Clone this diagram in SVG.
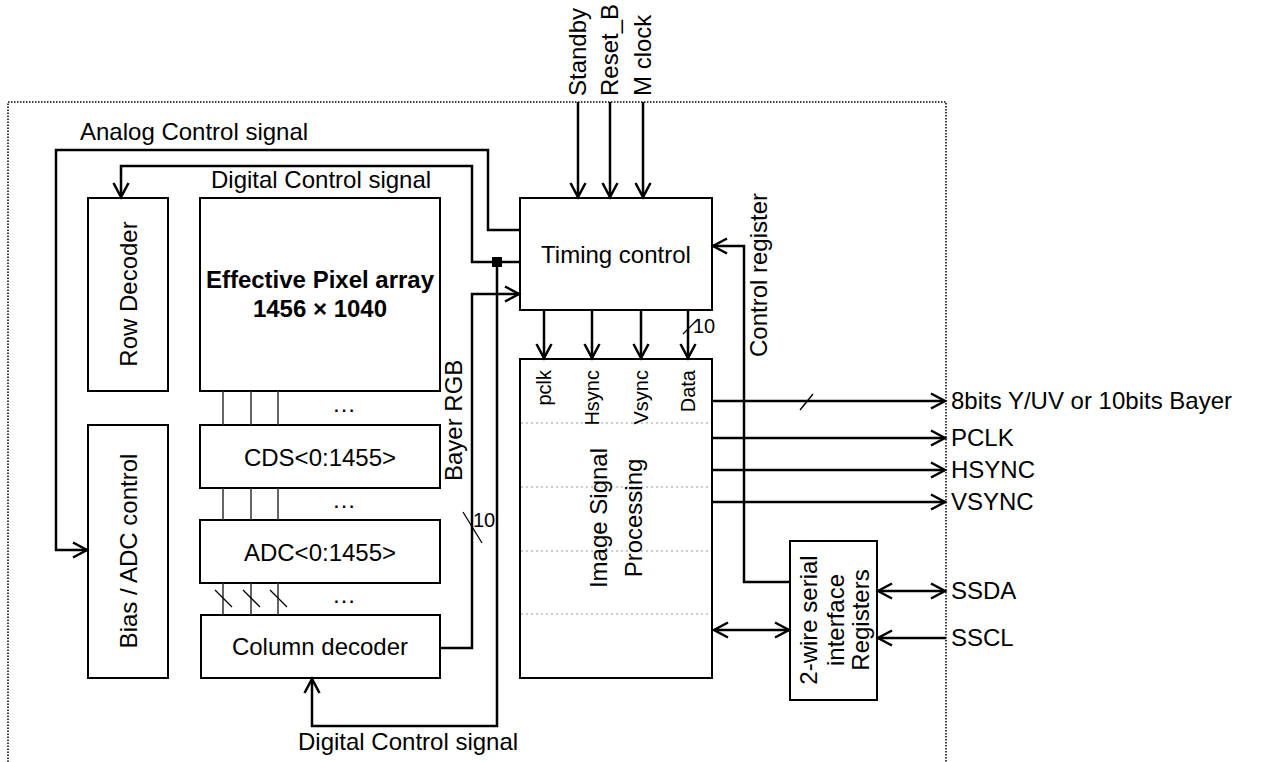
<svg xmlns="http://www.w3.org/2000/svg" width="1270" height="762" viewBox="0 0 1270 762">
<style>
text{font-family:"Liberation Sans",Arial,sans-serif;font-size:24px;fill:#000}
.b{font-weight:bold}
.s{font-size:20px}
.box{fill:#fff;stroke:#000;stroke-width:2}
.w{fill:none;stroke:#000;stroke-width:2.5}
.thin{fill:none;stroke:#333;stroke-width:1.5}
.sl{fill:none;stroke:#000;stroke-width:1.3}
.dot{fill:none;stroke:#999;stroke-width:1.2;stroke-dasharray:2 3}
.frame{fill:none;stroke:#000;stroke-width:1.5;stroke-dasharray:1.5 1.5}
.m{text-anchor:middle}
.e{text-anchor:end}
</style>
<defs>
<marker id="a" viewBox="-17 -10 20 20" refX="0" refY="0" markerWidth="20" markerHeight="20" markerUnits="userSpaceOnUse" orient="auto-start-reverse">
<path d="M-14,-7.5 L0,0 L-14,7.5" fill="none" stroke="#000" stroke-width="2.5"/>
</marker>
</defs>
<path class="frame" d="M8,762 V102 H946 V762"/>

<g id="row-decoder"><rect class="box" x="88" y="198" width="80" height="193"/><text class="m" transform="translate(137,294) rotate(-90)">Row Decoder</text></g>
<g id="bias-adc"><rect class="box" x="88" y="425" width="80" height="253"/><text class="m" transform="translate(137,551) rotate(-90)">Bias / ADC control</text></g>
<g id="pixel-array"><rect class="box" x="200" y="198" width="240" height="193"/><text class="m b" x="320" y="288">Effective Pixel array</text><text class="m b" x="320" y="317">1456 × 1040</text></g>
<g id="cds"><rect class="box" x="200" y="425" width="240" height="63"/><text class="m" x="320" y="466">CDS&lt;0:1455&gt;</text></g>
<g id="adc"><rect class="box" x="200" y="520" width="240" height="63"/><text class="m" x="320" y="561">ADC&lt;0:1455&gt;</text></g>
<g id="column-decoder"><rect class="box" x="201" y="615" width="239" height="63"/><text class="m" x="320" y="655">Column decoder</text></g>
<g id="timing"><rect class="box" x="520" y="198" width="192" height="112"/><text class="m" x="616" y="263">Timing control</text></g>
<g id="isp"><rect class="box" x="520" y="359" width="192" height="319"/>
<path class="dot" d="M521,423 H711 M521,487 H711 M521,551 H711 M521,614 H711"/>
<text class="s e" transform="translate(551,370) rotate(-90)">pclk</text>
<text class="s e" transform="translate(599,370) rotate(-90)">Hsync</text>
<text class="s e" transform="translate(648,370) rotate(-90)">Vsync</text>
<text class="s e" transform="translate(695,370) rotate(-90)">Data</text>
<text class="m" transform="translate(607,518) rotate(-90)">Image Signal</text>
<text class="m" transform="translate(642,518) rotate(-90)">Processing</text>
</g>
<g id="two-wire"><rect class="box" x="790" y="541" width="87" height="159"/>
<text class="m" transform="translate(817,620) rotate(-90)">2-wire serial</text>
<text class="m" transform="translate(844,620) rotate(-90)">interface</text>
<text class="m" transform="translate(869,620) rotate(-90)">Registers</text>
</g>

<g id="connectors">
<path class="thin" d="M223,391 V425 M251,391 V425 M278,391 V425 M223,488 V520 M251,488 V520 M278,488 V520 M223,583 V615 M251,583 V615 M278,583 V615"/>
<path class="sl" d="M215,590 L232,607 M243,590 L260,607 M270,590 L287,607"/>
<text class="m" x="344" y="412">…</text>
<text class="m" x="344" y="508">…</text>
<text class="m" x="344" y="603">…</text>
<path class="w" d="M520,230 H488 V150 H56 V550 H87" marker-end="url(#a)"/>
<path class="w" d="M520,262 H472 V166 H121 V197" marker-end="url(#a)"/>
<path class="w" d="M440,648 H472 V294 H519" marker-end="url(#a)"/>
<path class="w" d="M497,262 V726 H312 V679" marker-end="url(#a)"/>
<rect x="492" y="257" width="10" height="10" fill="#000"/>
<path class="sl" d="M463,512 L482,543"/>
<text class="s" x="473" y="527">10</text>
<path class="w" d="M578,102 V197" marker-end="url(#a)"/>
<path class="w" d="M610,102 V197" marker-end="url(#a)"/>
<path class="w" d="M643,102 V197" marker-end="url(#a)"/>
<path class="w" d="M544,310 V358" marker-end="url(#a)"/>
<path class="w" d="M592,310 V358" marker-end="url(#a)"/>
<path class="w" d="M641,310 V358" marker-end="url(#a)"/>
<path class="w" d="M688,310 V358" marker-end="url(#a)"/>
<path class="sl" d="M683,334 L698,319"/>
<text class="s" x="693" y="333">10</text>
<path class="w" d="M790,582 H744 V246 H713" marker-end="url(#a)"/>
<path class="w" d="M712,401 H945" marker-end="url(#a)"/>
<path class="sl" d="M800,410 L813,394"/>
<path class="w" d="M712,438 H945" marker-end="url(#a)"/>
<path class="w" d="M712,470 H945" marker-end="url(#a)"/>
<path class="w" d="M712,502 H945" marker-end="url(#a)"/>
<path class="w" d="M714,630 H789" marker-start="url(#a)" marker-end="url(#a)"/>
<path class="w" d="M878,591 H945" marker-start="url(#a)" marker-end="url(#a)"/>
<path class="w" d="M946,638 H878" marker-end="url(#a)"/>
</g>

<g id="labels">
<text transform="translate(586,96) rotate(-90)">Standby</text>
<text transform="translate(618,96) rotate(-90)">Reset_B</text>
<text transform="translate(651,96) rotate(-90)">M clock</text>
<text x="80" y="140">Analog Control signal</text>
<text x="211" y="188">Digital Control signal</text>
<text x="298" y="750">Digital Control signal</text>
<text transform="translate(462,481) rotate(-90)">Bayer RGB</text>
<text transform="translate(767,357) rotate(-90)">Control register</text>
<text x="951" y="409">8bits Y/UV or 10bits Bayer</text>
<text x="951" y="446">PCLK</text>
<text x="951" y="478">HSYNC</text>
<text x="951" y="510">VSYNC</text>
<text x="951" y="599">SSDA</text>
<text x="951" y="646">SSCL</text>
</g>
</svg>
